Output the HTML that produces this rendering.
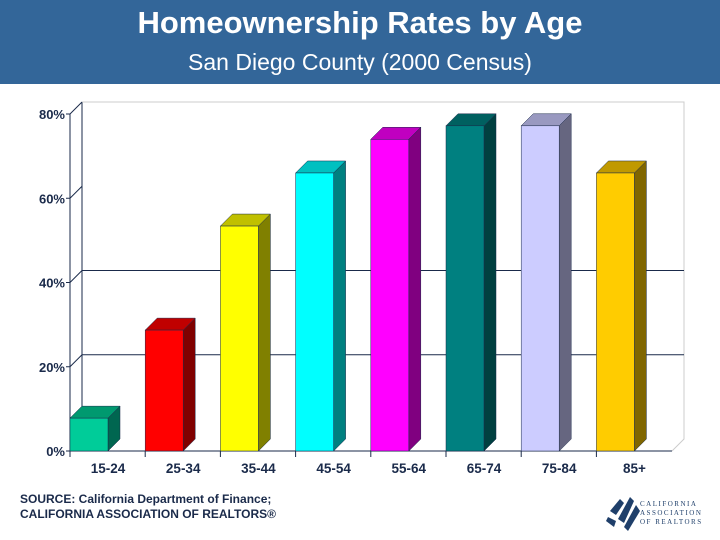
<!DOCTYPE html>
<html><head><meta charset="utf-8"><style>
body{margin:0;width:720px;height:540px;overflow:hidden;background:#fff;font-family:"Liberation Sans",sans-serif}
#hdr{position:absolute;left:0;top:0;width:720px;height:84px;background:#336699}
</style></head><body>
<div id="hdr">
<div style="position:absolute;top:5px;width:720px;text-align:center;color:#fff;font-weight:bold;font-size:31px">Homeownership Rates by Age</div>
<div style="position:absolute;top:49px;width:720px;text-align:center;color:#fff;font-size:23px">San Diego County (2000 Census)</div>
</div>
<svg id="c" width="720" height="540" style="position:absolute;left:0;top:0"></svg>
<div style="position:absolute;left:20px;top:492px;font-size:12px;font-weight:bold;color:#1a2a4a;line-height:15px">SOURCE: California Department of Finance;<br>CALIFORNIA ASSOCIATION OF REALTORS®</div>
<div style="position:absolute;left:606px;top:493px;width:110px;height:40px">
<svg width="36" height="40" style="position:absolute;left:0;top:0"><g fill="#1f3f6a"><polygon points="4,18 14,6 18,10 10,22"/><polygon points="12,26 24,4 28,8 18,30"/><polygon points="18,34 30,12 34,18 22,38"/><polygon points="2,24 10,28 8,34 0,28"/></g></svg>
<div style="position:absolute;left:34px;top:7px;font-family:'Liberation Serif',serif;font-size:7px;letter-spacing:1.5px;color:#1f3f6a;line-height:9px">CALIFORNIA<br>ASSOCIATION<br>OF REALTORS</div>
</div>
<script>
const categories=["15-24","25-34","35-44","45-54","55-64","65-74","75-84","85+"];
const values=[7.8,28.7,53.4,66,74,77.2,77.2,66];
const yTicks=[0,20,40,60,80];
const yTickLabels=["0%","20%","40%","60%","80%"];
const gridValues=[20,40];
const fronts=["#00cc99","#ff0000","#ffff00","#00ffff","#ff00ff","#008080","#ccccff","#ffcc00"];
const sides=["#006650","#800000","#808000","#008080","#800080","#004040","#666680","#806600"];
const tops=["#00996f","#c00000","#c0c000","#00c0c0","#c000c0","#006060","#9999c0","#c09900"];
const svg=document.getElementById('c');const NS='http://www.w3.org/2000/svg';
const X0=70,X1=672,Y0=451,D=12,PX=337/80;
const y=v=>Y0-v*PX;
const xb=i=>X0+i*75.2;
function add(t,a,n){const e=document.createElementNS(NS,t);for(const k in a)e.setAttribute(k,a[k]);svg.appendChild(e);return e;}
add('line',{x1:X0+D,y1:y(80)-D,x2:X0+D,y2:Y0-D,stroke:'#1a2a4a'},'back-wall-left');
add('polyline',{points:`${X0+D},${y(80)-D} ${X1+D},${y(80)-D} ${X1+D},${Y0-D} ${X1},${Y0}`,fill:'none',stroke:'#ccc'},'back-wall-outline');
gridValues.forEach(v=>{add('line',{x1:X0+D,y1:y(v)-D,x2:X1+D,y2:y(v)-D,stroke:'#1a2a4a'},'gridline');});
add('line',{x1:X0,y1:y(80),x2:X0,y2:Y0,stroke:'#1a2a4a'},'y-axis');
add('line',{x1:X0,y1:Y0,x2:X1,y2:Y0,stroke:'#1a2a4a'},'x-axis');
yTicks.forEach((v,i)=>{add('line',{x1:X0-4,y1:y(v),x2:X0,y2:y(v),stroke:'#1a2a4a'},'y-tick');
add('line',{x1:X0,y1:y(v),x2:X0+D,y2:y(v)-D,stroke:'#1a2a4a'},'y-tick-diag');
const t=add('text',{x:X0-5,y:y(v)+5,'text-anchor':'end','font-size':13,'font-weight':'bold',fill:'#1a2a4a','font-family':'Liberation Sans'},'y-tick-label');t.textContent=yTickLabels[i];});
categories.forEach((c,i)=>{const x=xb(i),w=38,t=y(values[i]);
add('polygon',{points:`${x+w},${t} ${x+D+w},${t-D} ${x+w+D},${Y0-D} ${x+w},${Y0}`,fill:sides[i],stroke:'#1a2a4a','stroke-width':0.5},'bar-side');
add('polygon',{points:`${x},${t} ${x+D},${t-D} ${x+w+D},${t-D} ${x+w},${t}`,fill:tops[i],stroke:'#1a2a4a','stroke-width':0.5},'bar-top');
add('rect',{x:x,y:t,width:w,height:Y0-t,fill:fronts[i],stroke:'#1a2a4a','stroke-width':0.5},'bar-'+c);
add('line',{x1:x,y1:Y0,x2:x,y2:Y0+6,stroke:'#1a2a4a'},'x-tick');
const l=add('text',{x:x+w,y:Y0+22,'text-anchor':'middle','font-size':13.5,'font-weight':'bold',fill:'#1a2a4a','font-family':'Liberation Sans'},'x-tick-label');l.textContent=c;});
</script>
</body></html>
